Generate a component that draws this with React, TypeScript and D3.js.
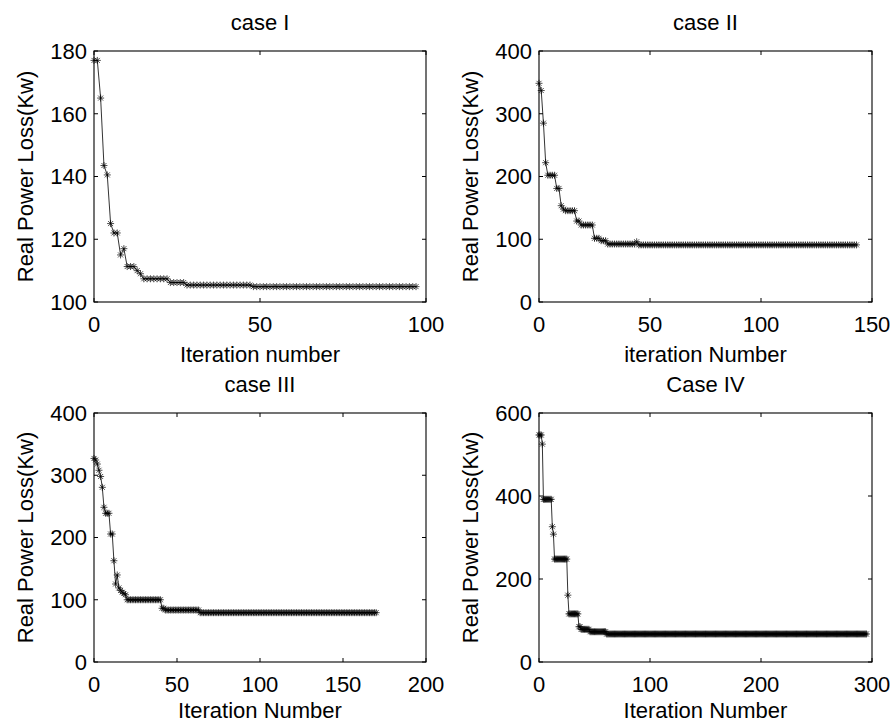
import * as React from "react";
import * as d3 from "d3";

// values, stored as [value, repeat count] runs (plateaus are flat in the source)
const case1Runs: [number, number][] = [
  [177, 2], [165, 1], [143.5, 1], [140.5, 1], [125, 1], [122, 2], [115, 1], [117, 1],
  [111.3, 3], [110, 1], [109, 1], [107.4, 8], [106.2, 5], [105.4, 20], [104.9, 50],
];
const case2Runs: [number, number][] = [
  [348.5, 1], [337, 1], [285, 1], [222, 1], [202, 4], [181, 2], [153.5, 1], [148, 1],
  [145.5, 5], [129, 2], [122.7, 6], [101.5, 3], [97.7, 3], [92.4, 13], [96, 1], [91, 99],
];
const case3Runs: [number, number][] = [
  [327, 1], [324.5, 1], [318, 1], [308, 1], [298, 1], [280.6, 1], [248.5, 1], [238.9, 3],
  [205.6, 2], [162.7, 1], [125.3, 1], [139.8, 1], [119, 1], [115, 1], [112, 1], [110, 1],
  [108, 1], [100, 21], [86.3, 2], [83.5, 21], [79.2, 107],
];
const case4Runs: [number, number][] = [
  [547, 3], [525, 1], [392, 8], [326, 1], [308, 1], [248, 12], [161, 1], [116, 9],
  [85, 2], [78.7, 8], [73, 15], [67.5, 235],
];

const titles = ["case I", "case II", "case III", "Case IV"];
const xLabels = ["Iteration number", "iteration Number", "Iteration Number", "Iteration Number"];
const yLabel = "Real Power Loss(Kw)";
const xDomains: [number, number][] = [[0, 100], [0, 150], [0, 200], [0, 300]];
const yDomains: [number, number][] = [[100, 180], [0, 400], [0, 400], [0, 600]];
const xTickVals = [[0, 50, 100], [0, 50, 100, 150], [0, 50, 100, 150, 200], [0, 100, 200, 300]];
const yTickVals = [[100, 120, 140, 160, 180], [0, 100, 200, 300, 400], [0, 100, 200, 300, 400], [0, 200, 400, 600]];

const W = 893;
const H = 722;
const FONT = '"Liberation Sans", Arial, Helvetica, sans-serif';
const FS = 22;
const boxes = [
  { left: 94, right: 426, top: 51, bottom: 302 },
  { left: 539, right: 872, top: 51, bottom: 302 },
  { left: 94, right: 426, top: 413, bottom: 662 },
  { left: 539, right: 872, top: 413, bottom: 662 },
];

function expand(runs: [number, number][]) {
  const out: number[] = [];
  runs.forEach(([v, n]) => { for (let k = 0; k < n; k++) out.push(v); });
  return out;
}

// MATLAB '*' marker: plus + cross
const STAR = "M-3.5,0H3.5M0,-3.5V3.5M-2.5,-2.5L2.5,2.5M-2.5,2.5L2.5,-2.5";

export default function App() {
  const svgRef = React.useRef<SVGSVGElement>(null);

  React.useEffect(() => {
    const svg = d3.select(svgRef.current);
    svg.selectAll("*").remove();
    svg.append("rect").attr("width", W).attr("height", H).attr("fill", "#fff");

    const series = [case1Runs, case2Runs, case3Runs, case4Runs].map(expand);

    series.forEach((vals, p) => {
      const b = boxes[p];
      const x = d3.scaleLinear().domain(xDomains[p]).range([b.left, b.right]);
      const y = d3.scaleLinear().domain(yDomains[p]).range([b.bottom, b.top]);
      const g = svg.append("g");
      const pts = vals.map((v, i) => [i, v] as [number, number]);

      // data line + star markers
      g.append("path")
        .attr("d", d3.line<[number, number]>().x((d) => x(d[0])).y((d) => y(d[1]))(pts)!)
        .attr("fill", "none")
        .attr("stroke", "#000")
        .attr("stroke-width", 0.8);
      g.selectAll("path.mk")
        .data(pts)
        .enter()
        .append("path")
        .attr("class", "mk")
        .attr("d", STAR)
        .attr("transform", (d) => `translate(${x(d[0])},${y(d[1])})`)
        .attr("fill", "none")
        .attr("stroke", "#000")
        .attr("stroke-width", 0.7);

      // box
      g.append("rect")
        .attr("x", b.left).attr("y", b.top)
        .attr("width", b.right - b.left).attr("height", b.bottom - b.top)
        .attr("fill", "none").attr("stroke", "#000").attr("stroke-width", 1.1);

      // ticks inside on all four sides
      const TL = 4;
      xTickVals[p].forEach((t) => {
        g.append("line").attr("x1", x(t)).attr("x2", x(t)).attr("y1", b.bottom).attr("y2", b.bottom - TL)
          .attr("stroke", "#000");
        g.append("line").attr("x1", x(t)).attr("x2", x(t)).attr("y1", b.top).attr("y2", b.top + TL)
          .attr("stroke", "#000");
        g.append("text").attr("x", x(t)).attr("y", b.bottom + 30)
          .attr("text-anchor", "middle").attr("font-family", FONT).attr("font-size", FS)
          .text(t);
      });
      yTickVals[p].forEach((t) => {
        g.append("line").attr("x1", b.left).attr("x2", b.left + TL).attr("y1", y(t)).attr("y2", y(t))
          .attr("stroke", "#000");
        g.append("line").attr("x1", b.right).attr("x2", b.right - TL).attr("y1", y(t)).attr("y2", y(t))
          .attr("stroke", "#000");
        g.append("text").attr("x", b.left - 7).attr("y", y(t)).attr("dy", "0.36em")
          .attr("text-anchor", "end").attr("font-family", FONT).attr("font-size", FS)
          .text(t);
      });

      const cx = (b.left + b.right) / 2;
      const cy = (b.top + b.bottom) / 2;
      g.append("text").attr("x", cx).attr("y", b.top - 21)
        .attr("text-anchor", "middle").attr("font-family", FONT).attr("font-size", FS)
        .text(titles[p]);
      g.append("text").attr("x", cx).attr("y", Math.min(b.bottom + 60, H - 4))
        .attr("text-anchor", "middle").attr("font-family", FONT).attr("font-size", FS)
        .text(xLabels[p]);
      g.append("text")
        .attr("transform", `translate(${b.left - 61},${cy}) rotate(-90)`)
        .attr("text-anchor", "middle").attr("font-family", FONT).attr("font-size", FS)
        .text(yLabel);
    });
  }, []);

  return (
    <svg
      ref={svgRef}
      width={W}
      height={H}
      style={{ position: "absolute", left: 0, top: 0, display: "block" }}
    />
  );
}
